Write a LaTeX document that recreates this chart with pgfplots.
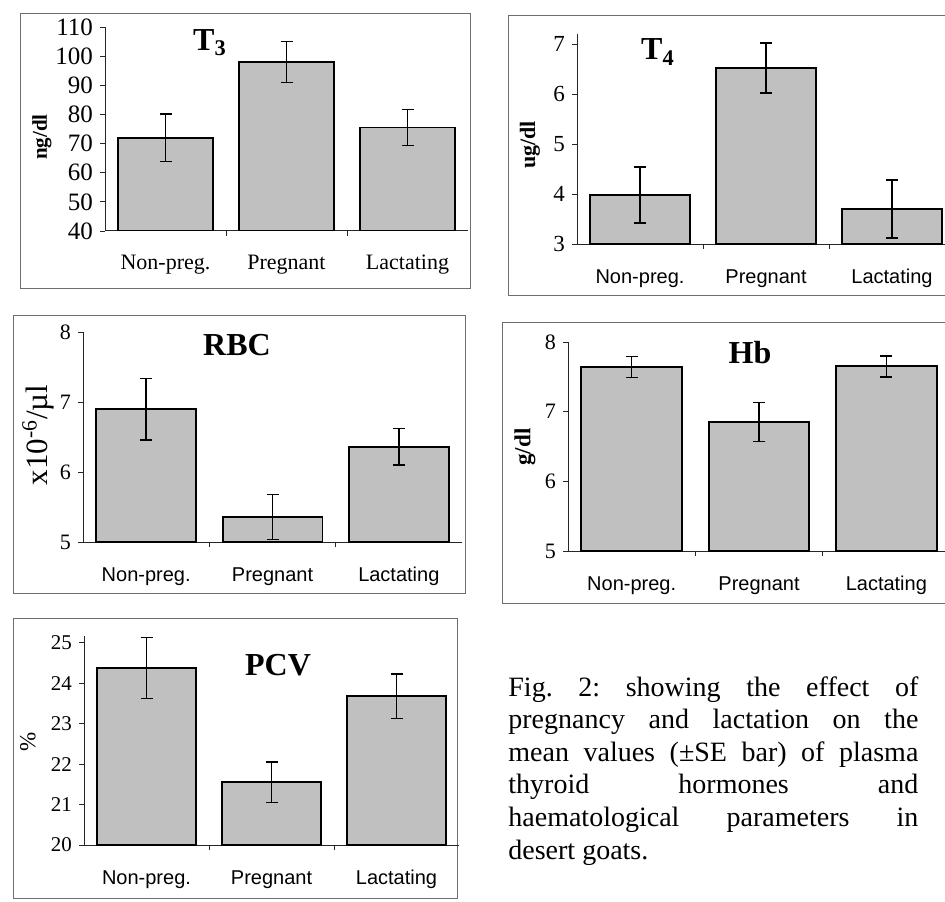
\documentclass[border=0pt]{standalone}
\usepackage{fontspec}
\setmainfont{Liberation Serif}
\newfontfamily\arial{Liberation Sans}
\usepackage{pgfplots}
\pgfplotsset{compat=1.18}
\definecolor{barfill}{RGB}{192,192,192}
\definecolor{framec}{RGB}{110,110,110}
\pgfplotsset{
  panel/.style={
    scale only axis,
    anchor=south west,
    axis lines=left,
    axis line style={-, line width=0.5pt, black!85},
    xmin=-0.5, xmax=2.5,
    xtick={0.5,1.5},
    xticklabels={},
    extra x ticks={0,1,2},
    extra x tick labels={Non-preg.,Pregnant,Lactating},
    extra x tick style={major tick length=0pt},
    tick align=outside,
    major tick length=2.5pt,
    tick style={line width=0.45pt, black!85},
    /pgf/number format/assume math mode=true,
    yticklabel style={font=\fontsize{10.5}{12}\selectfont, anchor=east},
    xticklabel style={anchor=base, yshift=-19.5pt},
  },
  sansx/.style={xticklabel style={font=\arial\fontsize{10}{12}\selectfont}},
  serifx/.style={xticklabel style={font=\fontsize{11}{12}\selectfont}},
  gbar/.style={ybar, bar width=0.79, draw=black, line width=0.9pt, fill=barfill,
    error bars/y dir=both, error bars/y explicit,
    error bars/error mark=-,
    error bars/error bar style={line width=0.7pt, black},
    error bars/error mark options={rotate=90, black, mark size=3pt, line width=0.7pt}},
}
\begin{document}
\frenchspacing
\begin{tikzpicture}
\path[use as bounding box] (0,0) rectangle (472.5pt,450.5pt);
\clip (0,0) rectangle (472.5pt,450.5pt);
% frames
\draw[framec, line width=0.45pt] (10pt,444pt) rectangle (235pt,306.5pt);
\draw[framec, line width=0.45pt] (254pt,443pt) rectangle (480pt,303pt);
\draw[framec, line width=0.45pt] (6.5pt,293pt) rectangle (232.5pt,154pt);
\draw[framec, line width=0.45pt] (251pt,289.5pt) rectangle (480pt,149pt);
\draw[framec, line width=0.45pt] (6.5pt,141.5pt) rectangle (228.5pt,1.5pt);

% T3
\begin{axis}[panel, serifx, at={(52.5pt,335pt)}, width=181.5pt, height=102pt,
  ymin=40, ymax=110, ytick={40,50,...,110}, yticklabel style={font=\fontsize{12.5}{14}\selectfont}]
\addplot[gbar] coordinates {(0,72) +- (0,8.2) (1,98) +- (0,7) (2,75.5) +- (0,6.2)};
\end{axis}
\node[rotate=90, font=\bfseries\fontsize{10.5}{12}\selectfont] at (21pt,382pt) {ng/dl};
\node[font=\bfseries\fontsize{16}{18}\selectfont] at (105pt,429pt) {T\textsubscript{3}};

% T4
\begin{axis}[panel, sansx, at={(288.5pt,328.5pt)}, width=189pt, height=105pt,
  ymin=3, ymax=7.2, ytick={3,4,5,6,7}, yticklabel style={font=\fontsize{11.5}{12}\selectfont}]
\addplot[gbar] coordinates {(0,3.98) +- (0,0.56) (1,6.52) +- (0,0.5) (2,3.7) +- (0,0.58)};
\end{axis}
\node[rotate=90, font=\bfseries\fontsize{11}{12}\selectfont] at (265pt,378pt) {ug/dl};
\node[font=\bfseries\fontsize{16}{18}\selectfont] at (329pt,424.5pt) {T\textsubscript{4}};

% RBC
\begin{axis}[panel, sansx, at={(41.5pt,179.5pt)}, width=189.5pt, height=105pt,
  ymin=5, ymax=8, ytick={5,6,7,8}, yticklabel style={font=\fontsize{11}{12}\selectfont}]
\addplot[gbar] coordinates {(0,6.9) +- (0,0.44) (1,5.36) +- (0,0.32) (2,6.36) +- (0,0.26)};
\end{axis}
\node[rotate=90, font=\fontsize{15.5}{16}\selectfont] at (19pt,233pt) {x10\textsuperscript{-6}/µl};
\node[font=\bfseries\fontsize{16}{18}\selectfont] at (118.5pt,278pt) {RBC};

% Hb
\begin{axis}[panel, sansx, at={(284pt,175pt)}, width=191pt, height=104.5pt,
  ymin=5, ymax=8, ytick={5,6,7,8}, yticklabel style={font=\fontsize{11}{12}\selectfont}]
\addplot[gbar] coordinates {(0,7.64) +- (0,0.15) (1,6.85) +- (0,0.28) (2,7.65) +- (0,0.15)};
\end{axis}
\node[rotate=90, font=\bfseries\fontsize{11.5}{12}\selectfont] at (262.5pt,227pt) {g/dl};
\node[font=\bfseries\fontsize{16}{18}\selectfont] at (375pt,274pt) {Hb};

% PCV
\begin{axis}[panel, sansx, at={(42pt,28pt)}, width=187.5pt, height=104.5pt,
  ymin=20, ymax=25.17, ytick={20,...,25}]
\addplot[gbar] coordinates {(0,24.38) +- (0,0.75) (1,21.55) +- (0,0.5) (2,23.68) +- (0,0.55)};
\end{axis}
\node[rotate=90, font=\fontsize{11.5}{12}\selectfont] at (14pt,79.5pt) {\%};
\node[font=\bfseries\fontsize{16}{18}\selectfont] at (139pt,118pt) {PCV};

% caption
\node[anchor=north west, inner sep=0pt, text width=205pt, align=justify,
  font=\fontsize{14}{16.3}\selectfont] at (254pt,112.5pt)
{Fig. 2: showing the effect of\linebreak pregnancy and lactation on the\linebreak mean values (±SE bar) of plasma\linebreak thyroid hormones and\linebreak haematological parameters in\linebreak desert goats.};
\end{tikzpicture}
\end{document}
